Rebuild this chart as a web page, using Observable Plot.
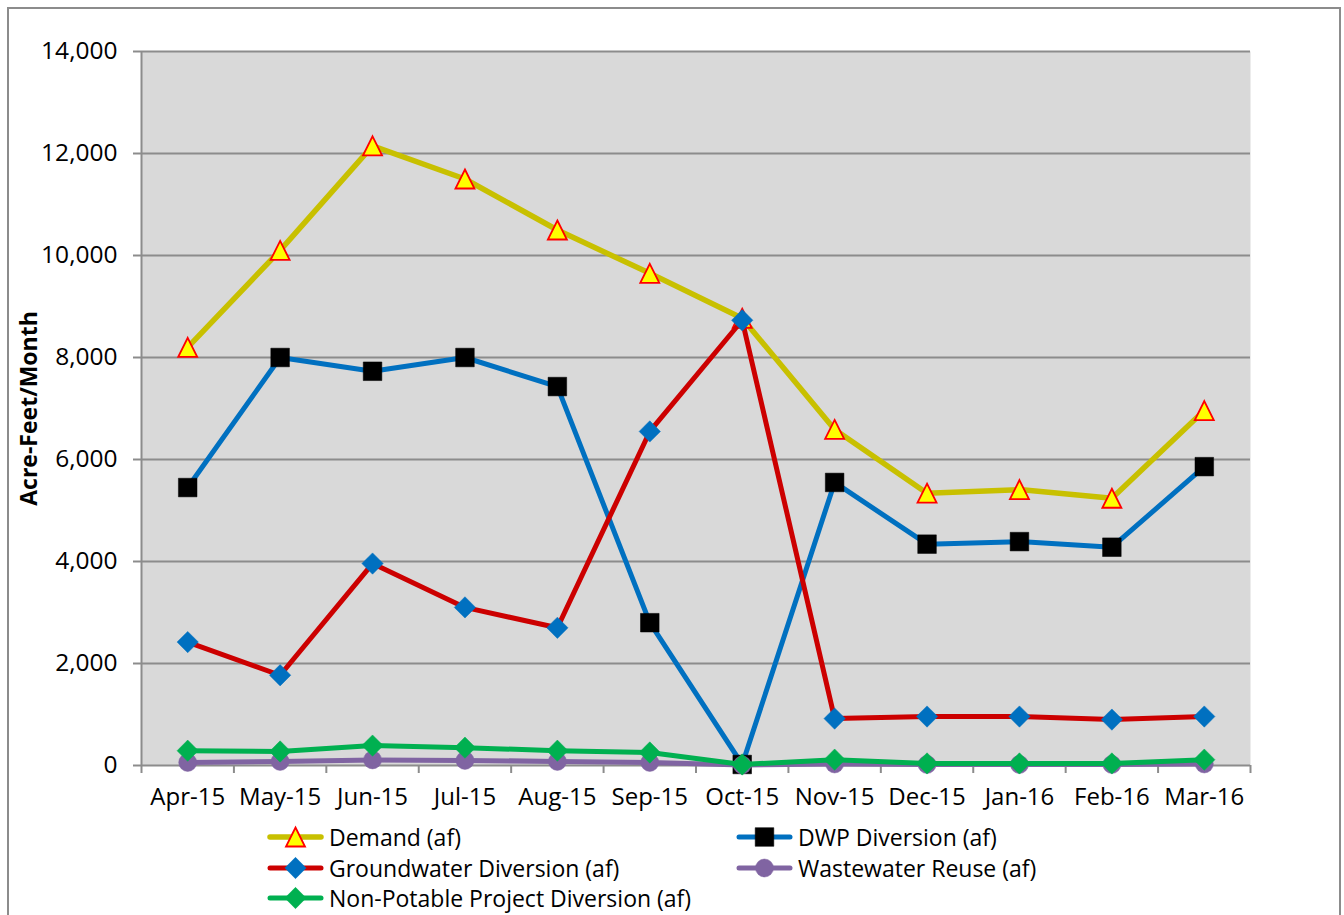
<!DOCTYPE html>
<html><head><meta charset="utf-8">
<script src="https://cdn.jsdelivr.net/npm/d3@7"></script>
<script src="https://cdn.jsdelivr.net/npm/@observablehq/plot@0.6"></script>
<style>
body{margin:0;background:#fff;font-family:"Open Sans",sans-serif;}
#wrap{position:relative;width:1344px;height:915px;overflow:hidden;background:#fff;}
#border{position:absolute;left:7px;top:7px;width:1334px;height:1000px;border:2px solid #8c8c8c;box-sizing:border-box;}
#chart{position:absolute;left:0;top:0;}
.leg{position:absolute;display:flex;align-items:center;font-size:23px;color:#000;white-space:nowrap;height:24px;line-height:24px;}
.leg svg{margin-right:5px;}
</style></head><body>
<div id="wrap"><div id="border"></div><div id="chart"></div><div id="legend"></div></div>
<script>
const months = ["Apr-15","May-15","Jun-15","Jul-15","Aug-15","Sep-15","Oct-15","Nov-15","Dec-15","Jan-16","Feb-16","Mar-16"];
const demand = [8200, 10100, 12150, 11500, 10500, 9650, 8770, 6590, 5340, 5410, 5240, 6960];
const dwpDiversion = [5450, 8000, 7730, 8000, 7430, 2800, 20, 5550, 4340, 4390, 4280, 5860];
const groundwater = [2420, 1770, 3960, 3100, 2700, 6550, 8730, 920, 960, 960, 900, 960];
const wastewater = [60, 80, 110, 100, 80, 60, 10, 30, 20, 20, 20, 30];
const nonPotable = [290, 275, 390, 350, 290, 255, 20, 115, 40, 40, 40, 115];
const seriesNames = ["Demand (af)","DWP Diversion (af)","Groundwater Diversion (af)","Wastewater Reuse (af)","Non-Potable Project Diversion (af)"];
const yTicks = [0, 2000, 4000, 6000, 8000, 10000, 12000, 14000];
const yLabel = "Acre-Feet/Month";

// Excel-like triangle (width = height)
const triSym = {draw(ctx, size){ const a = Math.sqrt(size/Math.PI); ctx.moveTo(0,-a); ctx.lineTo(a,a); ctx.lineTo(-a,a); ctx.closePath(); }};

const styles = [
  {values: demand, line: "#c8c000", lw: 5.5, symbol: triSym, r: 9.5, fill: "#ffff00", stroke: "#ff0000", sw: 1.8},
  {values: dwpDiversion, line: "#0070c0", lw: 5, symbol: "square", r: 10.5, fill: "#000000", stroke: "#000", sw: 0.5},
  {values: groundwater, line: "#cc0000", lw: 5, symbol: "diamond2", r: 9.6, fill: "#0070c0", stroke: "#0070c0", sw: 0.5},
  {values: wastewater, line: "#8064a2", lw: 5, symbol: "circle", r: 9, fill: "#8064a2", stroke: "#8064a2", sw: 0.5},
  {values: nonPotable, line: "#00b050", lw: 5, symbol: "diamond2", r: 9.6, fill: "#00b050", stroke: "#00b050", sw: 0.5}
];

const seriesMarks = styles.flatMap((s, k) => {
  const rows = s.values.map((v, i) => ({i: i + 0.5, v, series: seriesNames[k]}));
  return [
    Plot.line(rows, {x: "i", y: "v", stroke: s.line, strokeWidth: s.lw, strokeLinejoin: "round", strokeLinecap: "round"}),
    Plot.dot(rows, {x: "i", y: "v", symbol: () => s.symbol, r: s.r, fill: s.fill, stroke: s.stroke, strokeWidth: s.sw})
  ];
});

const chart = Plot.plot({
  width: 1344,
  height: 820,
  marginLeft: 141,
  marginRight: 94,
  marginTop: 51,
  marginBottom: 55,
  style: {fontFamily: "'Open Sans', sans-serif", background: "transparent", color: "#000"},
  x: {type: "linear", domain: [0, 12], axis: null},
  y: {domain: [0, 14000], axis: null},
  symbol: {type: "identity"},
  marks: [
    Plot.frame({fill: "#d9d9d9", stroke: "none"}),
    Plot.gridY({ticks: yTicks.filter(d => d > 0), stroke: "#8c8c8c", strokeOpacity: 1, strokeWidth: 2}),
    Plot.axisY({ticks: yTicks, tickFormat: d3.format(","), tickSize: 8, tickPadding: 16, fontSize: 24.5, stroke: "#8c8c8c", strokeWidth: 2, fill: "#000", label: null}),
    Plot.axisX({ticks: d3.range(13), tickFormat: () => "", tickSize: 8, stroke: "#8c8c8c", strokeWidth: 2, label: null}),
    Plot.axisX({ticks: months.map((m, i) => i + 0.5), tickFormat: d => months[Math.floor(d)], tickSize: 0, tickPadding: 22, fontSize: 24, fill: "#000", label: null}),
    Plot.ruleX([0], {stroke: "#8c8c8c", strokeWidth: 2}),
    Plot.ruleY([0], {stroke: "#8c8c8c", strokeWidth: 2}),
    Plot.text([yLabel], {text: d => d, frameAnchor: "left", textAnchor: "middle", dx: -112, rotate: -90, fontWeight: "bold", fontSize: 23, fill: "#000"}),
    ...seriesMarks
  ]
});
document.getElementById("chart").appendChild(chart);

// Legend
const legendPos = [
  {x: 267, y: 837}, {x: 736, y: 837},
  {x: 267, y: 868}, {x: 736, y: 868},
  {x: 267, y: 898}
];
const legend = document.getElementById("legend");
styles.forEach((s, k) => {
  const div = document.createElement("div");
  div.className = "leg";
  div.style.left = legendPos[k].x + "px";
  div.style.top = (legendPos[k].y - 12) + "px";
  const ns = "http://www.w3.org/2000/svg";
  const svg = document.createElementNS(ns, "svg");
  svg.setAttribute("width", 57); svg.setAttribute("height", 24);
  const ln = document.createElementNS(ns, "line");
  ln.setAttribute("x1", 3); ln.setAttribute("x2", 54); ln.setAttribute("y1", 12); ln.setAttribute("y2", 12);
  ln.setAttribute("stroke", s.line); ln.setAttribute("stroke-width", s.lw); ln.setAttribute("stroke-linecap", "round");
  svg.appendChild(ln);
  const p = document.createElementNS(ns, "path");
  const sym = typeof s.symbol === "string" ? {square: d3.symbolSquare, diamond2: d3.symbolDiamond2, circle: d3.symbolCircle}[s.symbol] : s.symbol;
  p.setAttribute("d", d3.symbol(sym, Math.PI * s.r * s.r)());
  p.setAttribute("transform", "translate(28.5,12)");
  p.setAttribute("fill", s.fill); p.setAttribute("stroke", s.stroke); p.setAttribute("stroke-width", s.sw);
  svg.appendChild(p);
  div.appendChild(svg);
  const span = document.createElement("span");
  span.textContent = seriesNames[k];
  div.appendChild(span);
  legend.appendChild(div);
});
</script>
</body></html>
